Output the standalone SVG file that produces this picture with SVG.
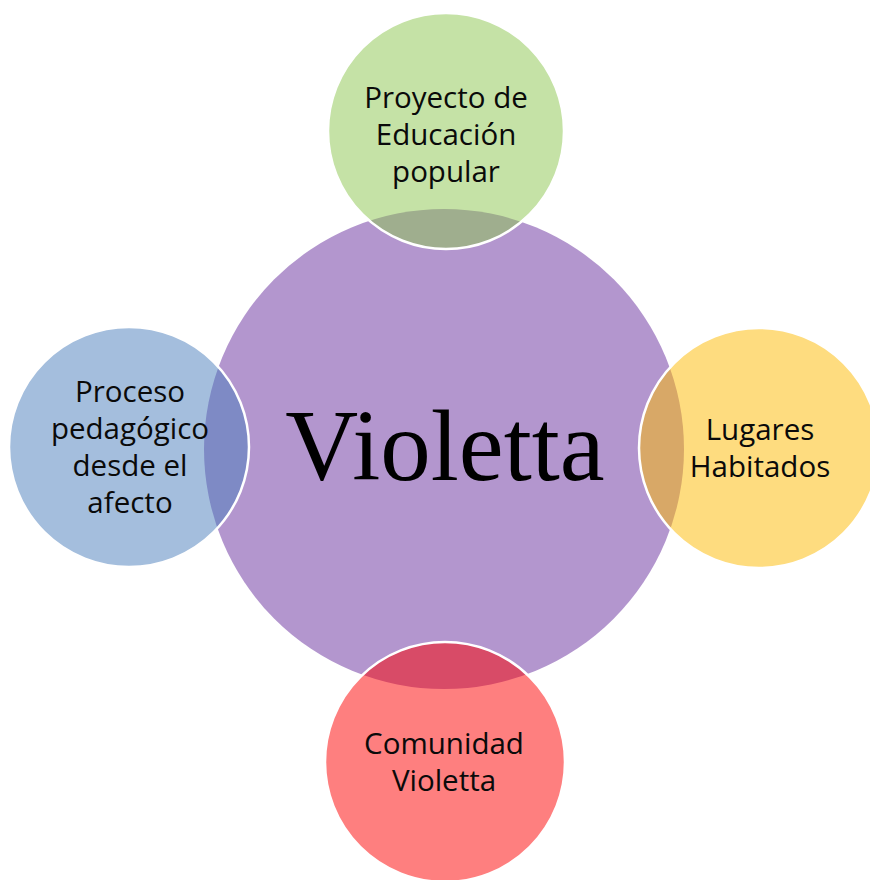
<svg xmlns="http://www.w3.org/2000/svg" width="870" height="880" viewBox="0 0 870 880">
<style>
.sat{stroke:#ffffff;stroke-width:2.5;fill-opacity:0.5}
.lbl{font-family:"Open Sans","Noto Sans",sans-serif;font-size:29.5px;fill:#0a0a0a;text-anchor:middle}
.main{font-family:"Liberation Serif","Times New Roman",serif;font-size:101px;fill:#000000;text-anchor:middle}
</style>
<rect width="870" height="880" fill="#ffffff"/>
<g id="center">
<circle cx="444" cy="449" r="240" fill="#B396CE"/>
<text class="main" x="445" y="480">Violetta</text>
</g>
<g id="connectors"></g>
<g id="top">
<circle class="sat" cx="446" cy="131" r="118" fill="#8BC54D"/>
<text class="lbl" x="446" y="108">Proyecto de</text>
<text class="lbl" x="446" y="145">Educación</text>
<text class="lbl" x="446" y="182">popular</text>
</g>
<g id="left">
<circle class="sat" cx="129" cy="447" r="120" fill="#4A7DBC"/>
<text class="lbl" x="130" y="402">Proceso</text>
<text class="lbl" x="130" y="439">pedagógico</text>
<text class="lbl" x="130" y="476">desde el</text>
<text class="lbl" x="130" y="513">afecto</text>
</g>
<g id="right">
<circle class="sat" cx="759" cy="448" r="120" fill="#FDB900"/>
<text class="lbl" x="760" y="440">Lugares</text>
<text class="lbl" x="760" y="477">Habitados</text>
</g>
<g id="bottom">
<circle class="sat" cx="445" cy="762" r="120" fill="#FD0000"/>
<text class="lbl" x="444" y="754">Comunidad</text>
<text class="lbl" x="444" y="791">Violetta</text>
</g>
</svg>
